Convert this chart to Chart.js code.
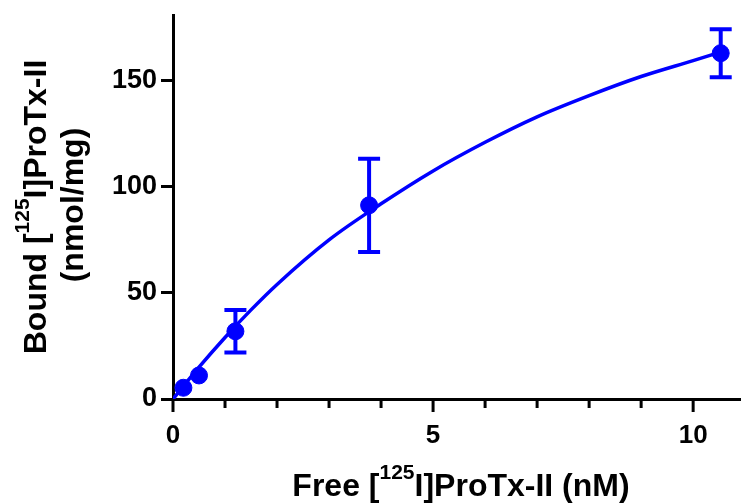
<!DOCTYPE html>
<html>
<head>
<meta charset="utf-8">
<script src="https://cdn.jsdelivr.net/npm/chart.js@4/dist/chart.umd.min.js"></script>
<style>
  html, body { margin: 0; padding: 0; background: #fff; }
  #wrap { width: 741px; height: 504px; position: relative; }
</style>
</head>
<body>
<div id="wrap"><canvas id="bindingChart"></canvas></div>
<script>
// data
const pointX = [0.2, 0.5, 1.2, 3.77, 10.53];
const pointY = [5.3, 11.1, 31.9, 91.3, 163];
const pointErr = [0, 0, 10, 22, 11.3];

// fitted curve
const curveX = [0, 0.5, 1, 1.5, 2, 3, 4, 5, 6, 7, 8, 9, 10, 10.53];
const curveY = [0, 15, 29, 42, 54, 75, 92, 107.5, 121, 133, 143, 152, 159.5, 163.5];

const xTickValues = [0, 1, 2, 3, 4, 5, 6, 7, 8, 9, 10];
const xTickLabels = [0, 5, 10];
const yTickValues = [0, 50, 100, 150];

const blue = '#0000ff';
const titleFont = 'bold 32px "Liberation Sans", Arial, sans-serif';
const supFont = 'bold 21px "Liberation Sans", Arial, sans-serif';

// draws a line of text with a superscript part, centred on x
function drawRich(ctx, parts, x, y) {
    let total = 0;
    parts.forEach(p => {
        ctx.font = p.sup ? supFont : titleFont;
        p.w = ctx.measureText(p.t).width;
        total += p.w;
    });
    let cx = x - total / 2;
    parts.forEach(p => {
        ctx.font = p.sup ? supFont : titleFont;
        ctx.fillText(p.t, cx, p.sup ? y - 17 : y);
        cx += p.w;
    });
}

const extras = {
    id: 'extras',
    afterDatasetsDraw(chart) {
        const {ctx, chartArea, scales: {x, y}} = chart;
        ctx.save();

        // error bars
        ctx.strokeStyle = blue;
        ctx.lineWidth = 4;
        pointX.forEach((px, i) => {
            const e = pointErr[i];
            if (!e) return;
            const cx = x.getPixelForValue(px);
            const top = y.getPixelForValue(pointY[i] + e);
            const bot = y.getPixelForValue(pointY[i] - e);
            ctx.beginPath();
            ctx.moveTo(cx, top); ctx.lineTo(cx, bot);
            ctx.moveTo(cx - 11, top); ctx.lineTo(cx + 11, top);
            ctx.moveTo(cx - 11, bot); ctx.lineTo(cx + 11, bot);
            ctx.stroke();
        });

        // x tick marks, majors a bit longer
        ctx.strokeStyle = '#000';
        ctx.lineWidth = 3;
        xTickValues.forEach(v => {
            const px = x.getPixelForValue(v);
            const len = xTickLabels.includes(v) ? 13 : 9;
            ctx.beginPath();
            ctx.moveTo(px, chartArea.bottom);
            ctx.lineTo(px, chartArea.bottom + len);
            ctx.stroke();
        });

        // axis titles
        ctx.fillStyle = '#000';
        ctx.textBaseline = 'alphabetic';
        ctx.textAlign = 'left';
        drawRich(ctx, [{t: 'Free ['}, {t: '125', sup: true}, {t: 'I]ProTx-II (nM)'}], 461, 496);

        const midY = (chartArea.top + chartArea.bottom) / 2;
        ctx.translate(46, midY);
        ctx.rotate(-Math.PI / 2);
        drawRich(ctx, [{t: 'Bound ['}, {t: '125', sup: true}, {t: 'I]ProTx-II'}], 0, 0);
        drawRich(ctx, [{t: '(nmol/mg)'}], 2, 37);
        ctx.restore();
    }
};

const ctx = document.getElementById('bindingChart').getContext('2d');
const bindingChart = new Chart(ctx, {
    type: 'scatter',
    data: {
        datasets: [{
            label: 'Bound',
            data: pointX.map((v, i) => ({x: v, y: pointY[i]})),
            backgroundColor: blue,
            borderColor: blue,
            pointRadius: 8.5,
            showLine: false
        }, {
            label: 'Fit',
            data: curveX.map((v, i) => ({x: v, y: curveY[i]})),
            borderColor: blue,
            borderWidth: 3.5,
            pointRadius: 0,
            showLine: true,
            cubicInterpolationMode: 'monotone'
        }]
    },
    options: {
        responsive: true,
        maintainAspectRatio: false,
        animation: false,
        layout: { autoPadding: false, padding: { top: 15, right: 0, left: 0, bottom: 0 } },
        plugins: { legend: { display: false }, tooltip: { enabled: false } },
        scales: {
            x: {
                type: 'linear',
                min: 0,
                max: 10.92,
                afterFit: s => { s.height = 105; s.paddingRight = 0; s.paddingLeft = 0; },
                afterBuildTicks: s => { s.ticks = xTickValues.map(v => ({value: v})); },
                border: { display: true, color: '#000', width: 3 },
                grid: { display: true, drawOnChartArea: false, drawTicks: false },
                ticks: {
                    autoSkip: false,
                    maxRotation: 0,
                    padding: 21,
                    color: '#000',
                    font: { family: '"Liberation Sans", Arial, sans-serif', size: 26, weight: 'bold' },
                    callback: v => xTickLabels.includes(v) ? String(v) : ''
                }
            },
            y: {
                min: 0,
                max: 181,
                afterFit: s => { s.width = 173; s.paddingTop = 0; s.paddingBottom = 0; },
                afterBuildTicks: s => { s.ticks = yTickValues.map(v => ({value: v})); },
                border: { display: true, color: '#000', width: 3 },
                grid: { drawOnChartArea: false, drawTicks: true, tickLength: 12, tickWidth: 3, tickColor: '#000' },
                ticks: {
                    padding: 4,
                    color: '#000',
                    font: { family: '"Liberation Sans", Arial, sans-serif', size: 27, weight: 'bold' }
                }
            }
        }
    },
    plugins: [extras]
});
</script>
</body>
</html>
